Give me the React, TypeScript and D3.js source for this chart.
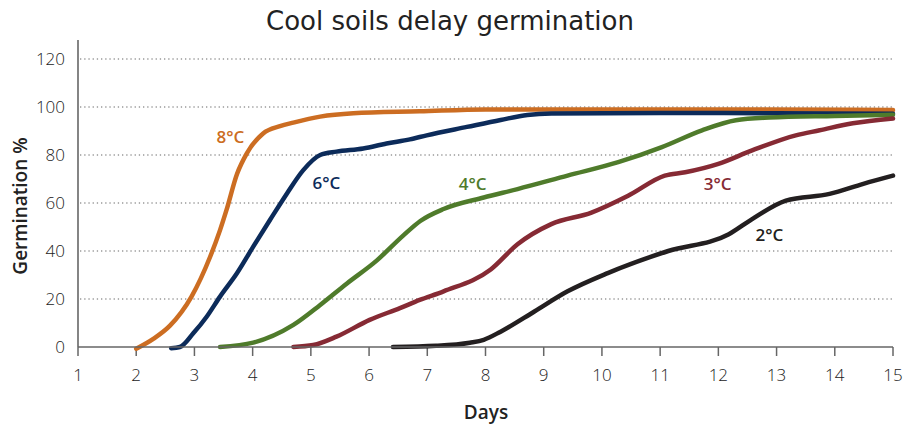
import React from "react";
import * as d3 from "d3";

const W = 912;
const H = 424;

const xTicks = [1, 2, 3, 4, 5, 6, 7, 8, 9, 10, 11, 12, 13, 14, 15];
const yTicks = [0, 20, 40, 60, 80, 100, 120];

const s8: [number, number][] = [
  [2.0, -0.7], [2.3, 3.5], [2.58, 8.9], [2.95, 21], [3.27, 37.6], [3.44, 48.7], [3.55, 57],
  [3.73, 72], [3.9, 80.7], [4.18, 89], [4.47, 92], [4.7, 93.5], [5.16, 96], [5.73, 97.4],
  [6.87, 98.2], [8, 99], [10, 99], [12, 99], [15, 98.7],
];
const s6: [number, number][] = [
  [2.6, -0.5], [2.75, 0], [2.98, 5.7], [3.21, 12.6], [3.44, 21], [3.73, 30.7], [4.01, 41.8],
  [4.3, 53], [4.59, 64], [4.87, 73.7], [5.16, 80], [5.44, 81.4], [5.9, 82.7], [6.3, 84.8],
  [6.7, 86.5], [6.99, 88.2], [7.68, 91.7], [8.26, 94.6], [8.72, 96.7], [9.13, 97.3],
  [11, 97.5], [13, 97.4], [15, 97.2],
];
const s4: [number, number][] = [
  [3.44, 0], [4.01, 1.8], [4.7, 9.2], [5.16, 17.5], [5.62, 26.5], [6.13, 36], [6.59, 46.5],
  [6.88, 52.5], [7.28, 57.5], [7.97, 62.3], [8.55, 65.8], [9.41, 71.4], [10.28, 77],
  [11.03, 83.3], [11.72, 90.3], [12.3, 94.5], [12.87, 95.6], [14, 96.3], [15, 96.8],
];
const s3: [number, number][] = [
  [4.7, 0], [5.04, 0.8], [5.44, 4.3], [6.01, 11.3], [6.53, 16.2], [6.87, 19.6], [7.28, 23.2],
  [8.09, 32.3], [8.55, 42.8], [9.13, 51.2], [9.82, 56], [10.45, 63], [11.08, 71.4],
  [11.43, 72.8], [12.0, 76.3], [12.58, 81.9], [13.33, 88.2], [13.74, 90.3], [14.31, 93.2],
  [15, 95.2],
];
const s2: [number, number][] = [
  [6.41, 0], [7.15, 0.5], [7.73, 1.8], [7.97, 3], [8.26, 6.4], [8.84, 14.8], [9.41, 23.2],
  [10.1, 30.8], [11.14, 40], [12.18, 47], [12.58, 53.3], [13.16, 61], [13.91, 63.8],
  [14.49, 68], [15, 71.4],
];

const seriesNames = ["8°C", "6°C", "4°C", "3°C", "2°C"];
const seriesData = [s8, s6, s4, s3, s2];
const seriesColors = ["#cc6d22", "#0c2b5a", "#4f7b2b", "#862a34", "#231f20"];
const labelPos: [number, number][] = [
  [3.38, 85], [5.03, 65.8], [7.54, 65.4], [11.75, 65.4], [12.64, 44.2],
];

export default function App() {
  const left = 78;
  const right = 893;
  const top = 59;
  const bottom = 347;
  const x = d3.scaleLinear().domain([1, 15]).range([left, right]);
  const y = d3.scaleLinear().domain([0, 120]).range([bottom, top]);
  const line = d3
    .line<[number, number]>()
    .x((d) => x(d[0]))
    .y((d) => y(d[1]))
    .curve(d3.curveMonotoneX);
  const font = "'Open Sans', 'DejaVu Sans', sans-serif";

  return (
    <svg width={W} height={H} style={{ position: "absolute", left: 0, top: 0, background: "#fff" }} fontFamily={font}>
      <text x={450} y={30} textAnchor="middle" fontSize={26} fontFamily="'DejaVu Sans', sans-serif" fill="#222">
        Cool soils delay germination
      </text>
      {yTicks.filter((t) => t > 0).map((t) => (
        <line key={t} x1={left + 2} x2={right} y1={y(t)} y2={y(t)} stroke="#999" strokeWidth={1.3} strokeDasharray="1.3,2.9" />
      ))}
      {yTicks.map((t) => (
        <text key={t} x={65} y={y(t)} dy="0.36em" textAnchor="end" fontSize={17} fontWeight={300} fill="#222">
          {t}
        </text>
      ))}
      {xTicks.map((t) => (
        <g key={t}>
          <line x1={x(t)} x2={x(t)} y1={bottom} y2={bottom + 9} stroke="#666" strokeWidth={1.5} />
          <text x={x(t)} y={381} textAnchor="middle" fontSize={17} fontWeight={300} fill="#222">
            {t}
          </text>
        </g>
      ))}
      <line x1={left} x2={left} y1={40} y2={bottom} stroke="#666" strokeWidth={1.6} />
      {seriesData.map((s, i) => (
        <path key={i} d={line(s) || ""} fill="none" stroke={seriesColors[i]} strokeWidth={4.5} strokeLinecap="round" strokeLinejoin="round" />
      ))}
      <line x1={left} x2={right} y1={bottom} y2={bottom} stroke="#666" strokeWidth={1.6} />
      {seriesData.map((s, i) => (
        <text key={i} x={x(labelPos[i][0])} y={y(labelPos[i][1])} fontSize={17} fontWeight={600} fill={seriesColors[i]}>
          {seriesNames[i]}
        </text>
      ))}
      <text transform={`translate(27,${(top + bottom) / 2 + 3}) rotate(-90)`} textAnchor="middle" fontSize={19} fontWeight={600} fill="#222">
        Germination %
      </text>
      <text x={486} y={419} textAnchor="middle" fontSize={19} fontWeight={600} fill="#222">
        Days
      </text>
    </svg>
  );
}
